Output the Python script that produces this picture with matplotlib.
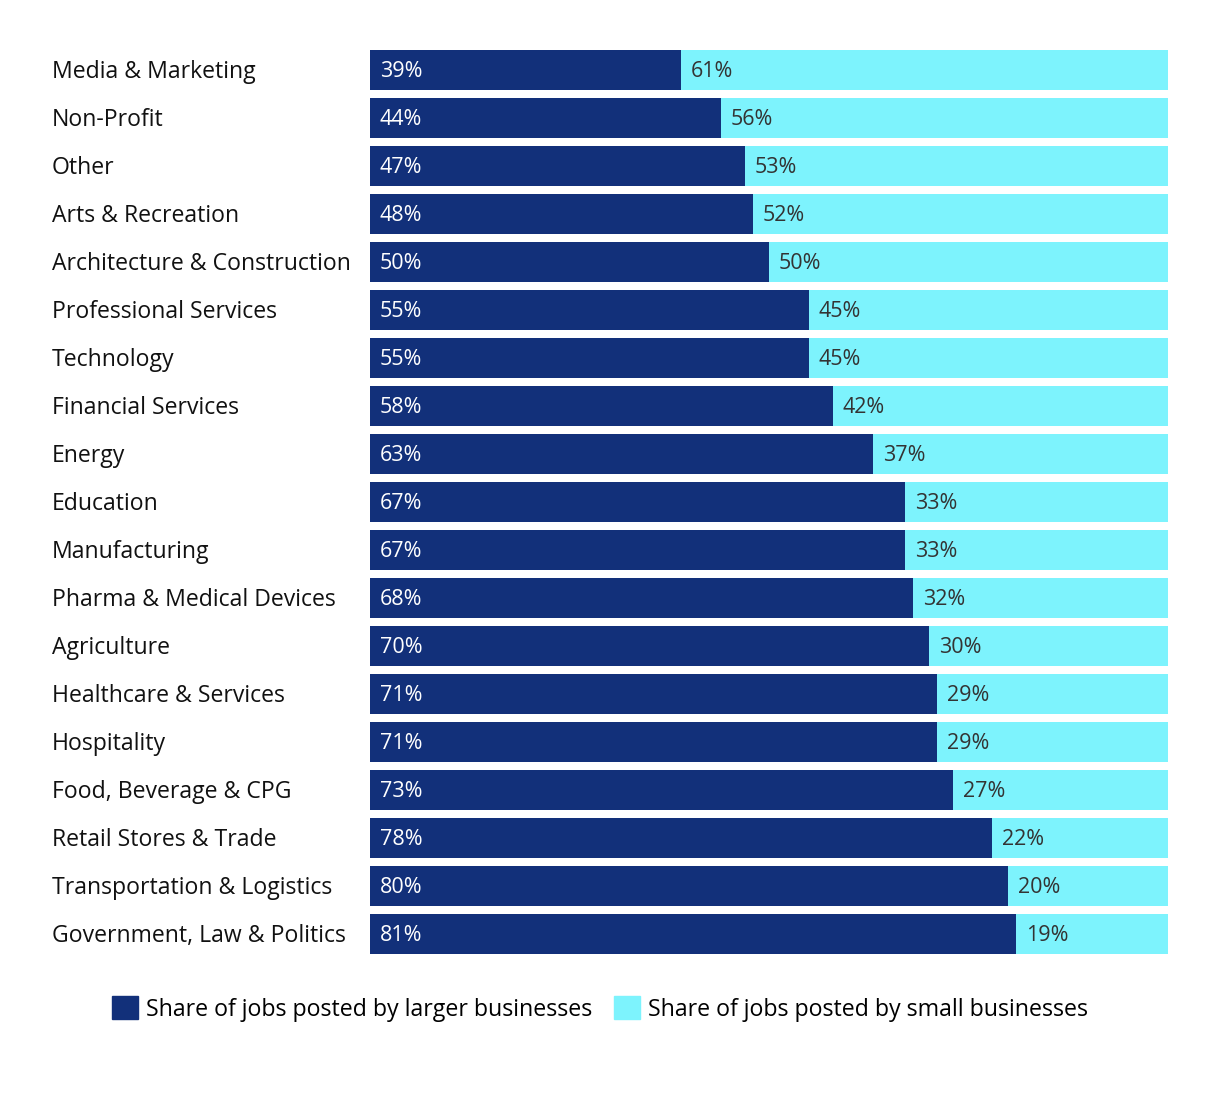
import matplotlib.pyplot as plt
from matplotlib.patches import Patch

plt.rcParams["font.family"] = ["Open Sans", "DejaVu Sans"]

# data
industries = [
    "Media & Marketing", "Non-Profit", "Other", "Arts & Recreation",
    "Architecture & Construction", "Professional Services", "Technology",
    "Financial Services", "Energy", "Education", "Manufacturing",
    "Pharma & Medical Devices", "Agriculture", "Healthcare & Services",
    "Hospitality", "Food, Beverage & CPG", "Retail Stores & Trade",
    "Transportation & Logistics", "Government, Law & Politics",
]
larger = [39, 44, 47, 48, 50, 55, 55, 58, 63, 67, 67, 68, 70, 71, 71, 73, 78, 80, 81]
small = [61, 56, 53, 52, 50, 45, 45, 42, 37, 33, 33, 32, 30, 29, 29, 27, 22, 20, 19]

navy = "#12307a"
cyan = "#7df3fd"

W, H = 1220, 1104
fig = plt.figure(figsize=(W / 100, H / 100), dpi=100)
ax = fig.add_axes([370 / W, 1 - 958 / H, (1168 - 370) / W, (958 - 46) / H])

ypos = list(range(len(industries)))
ax.barh(ypos, larger, height=40 / 48, color=navy)
ax.barh(ypos, small, left=larger, height=40 / 48, color=cyan)

for y, lg, sm in zip(ypos, larger, small):
    ty = y - 0.03
    ax.text(1.25, ty, f"{lg}%", color="white", va="center_baseline", ha="left", fontsize=15.5)
    ax.text(lg + 1.25, ty, f"{sm}%", color="#333333", va="center_baseline", ha="left", fontsize=15.5)
    ax.text(-318 / 798 * 100, ty, industries[y], color="#111111", va="center_baseline",
            ha="left", fontsize=16.6)

ax.set_xlim(0, 100)
ax.set_ylim(len(industries) - 0.5, -0.5)
ax.axis("off")

handles = [Patch(color=navy, label="Share of jobs posted by larger businesses"),
           Patch(color=cyan, label="Share of jobs posted by small businesses")]
fig.legend(handles=handles, loc="center", bbox_to_anchor=(600 / W, 1 - 1009 / H),
           ncol=2, frameon=False, fontsize=16.7, handlelength=1.15, handleheight=1.15,
           handletextpad=0.35, columnspacing=0.9)

fig.savefig("out.png", dpi=100)
